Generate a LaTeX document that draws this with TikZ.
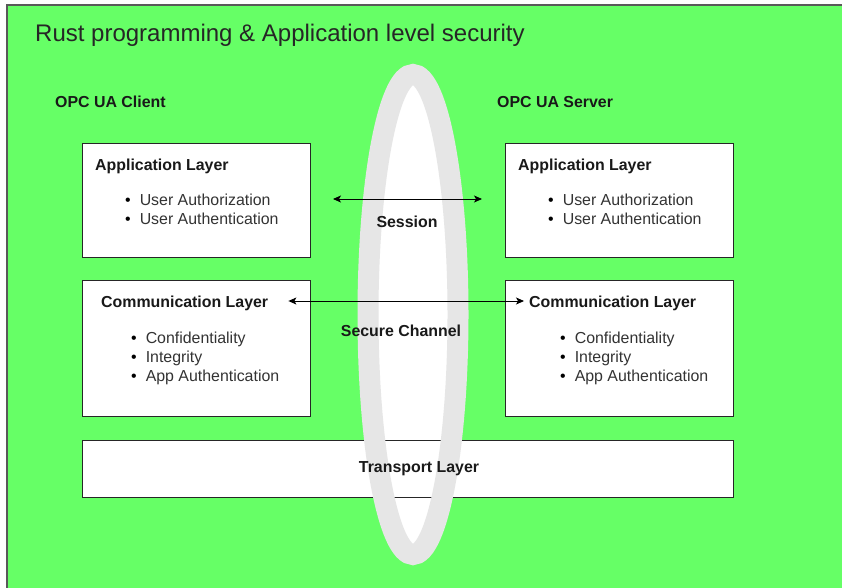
\documentclass[tikz,border=0pt]{standalone}
\usepackage{fontspec}
\setmainfont{Liberation Sans}
\usepackage{xcolor}
\usetikzlibrary{positioning}
\usetikzlibrary{arrows.meta}
\definecolor{bggreen}{HTML}{66FF66}
\definecolor{ringgray}{HTML}{E6E6E6}
\definecolor{itemgray}{HTML}{333333}
\tikzset {
  % white layer boxes
  layer/.style = {draw=black!85, fill=white, anchor=north west, inner sep=0pt,
    minimum width=228pt, minimum height=114pt},
  % bold captions
  heading/.style = {font=\fontsize{15.9}{18}\selectfont\bfseries, text=black!90,
    anchor=west, inner sep=0pt},
  % bullet lists inside the boxes
  items/.style = {font=\fontsize{15.9}{19}\selectfont, text=itemgray, align=left,
    anchor=north west, inner sep=0pt},
  link/.style = {{Stealth[length=8pt, width=7pt, inset=2pt]}-{Stealth[length=8pt, width=7pt, inset=2pt]},
    line width=0.9pt},
}
\newcommand{\itm}[1]{\textcolor{black}{\textbullet}\hspace{9pt}#1}

\begin{document}
\begin{tikzpicture}[x=1pt, y=-1pt]
  \useasboundingbox (0,0) rectangle (842,587);
  \draw[draw=black!65, line width=1.5pt, fill=bggreen] (7,5) rectangle (852,597);

  % inside of the session ring
  \path[fill=white] (413,314.5) ellipse [x radius=45pt, y radius=240pt];

  \node[font=\fontsize{24}{28}\selectfont, text=black!85, anchor=west, inner sep=0pt]
    (title) at (35,35) {Rust programming \& Application level security};

  \node[heading] (client) at (55,102) {OPC UA Client};
  \node[heading] (server) at (497,102) {OPC UA Server};

  % client side
  \node[layer] (capp) at (82,143) {};
  \node[layer, minimum height=136pt] (ccomm) at (82,280) {};
  % server side
  \node[layer] (sapp) at (505,143) {};
  \node[layer, minimum height=136pt] (scomm) at (505,280) {};
  \node[layer, minimum width=651pt, minimum height=57pt] (trans) at (82,440) {};

  \draw[ringgray, line width=21pt] (413,314.5) ellipse [x radius=45pt, y radius=240pt];

  \node[heading] (cappt) at (95,166) {Application Layer};
  \node[items] (cappi) at (125,194) {\itm{User Authorization}\\ \itm{User Authentication}};
  \node[heading] (ccommt) at (101,303) {Communication Layer};
  \node[items] (ccommi) at (131,332) {\itm{Confidentiality}\\ \itm{Integrity}\\ \itm{App Authentication}};

  \node[heading] (sappt) at (518,166) {Application Layer};
  \node[items] (sappi) at (548,194) {\itm{User Authorization}\\ \itm{User Authentication}};
  \node[heading] (scommt) at (529,303) {Communication Layer};
  \node[items] (scommi) at (560,332) {\itm{Confidentiality}\\ \itm{Integrity}\\ \itm{App Authentication}};

  \node[heading, anchor=center] (transt) at (419,469) {Transport Layer};

  \coordinate (sessl) at (333,199);
  \coordinate (sessr) at (482,199);
  \draw[link] (sessl) -- (sessr);
  \node[heading, anchor=center] (sess) at (407,222) {Session};

  \draw[link] ([xshift=20pt, yshift=2pt]ccommt.east) -- ([xshift=-5pt, yshift=2pt]scommt.west);
  \node[heading, anchor=center] (chan) at (401,331) {Secure Channel};
\end{tikzpicture}
\end{document}
